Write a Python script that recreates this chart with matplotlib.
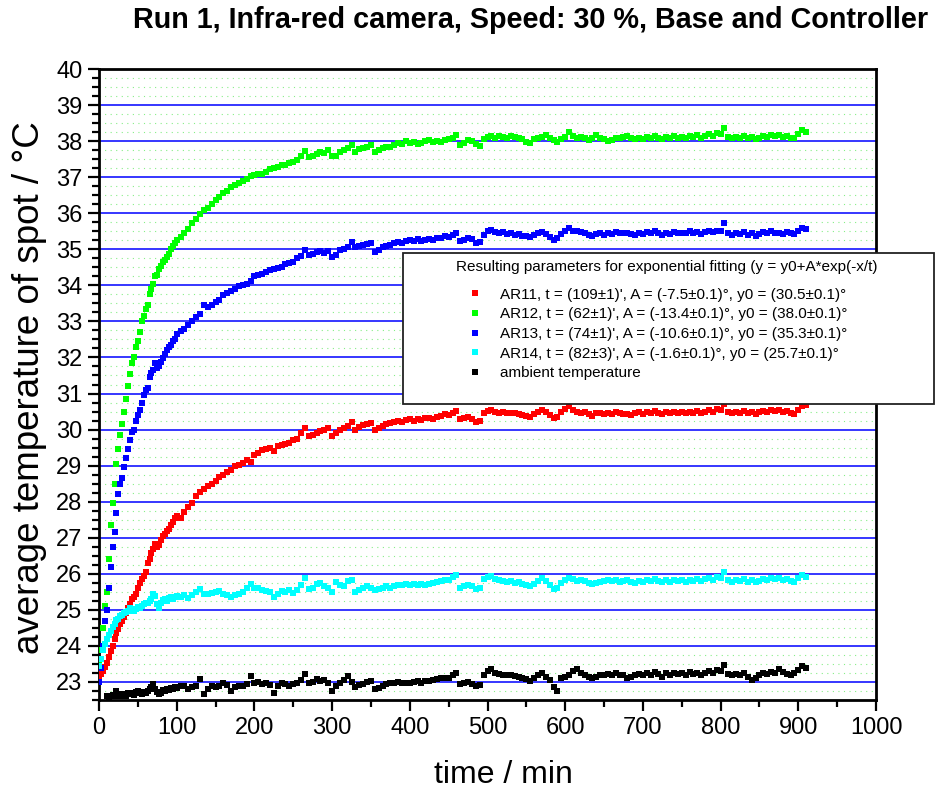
import numpy as np
import matplotlib
matplotlib.use('Agg')
import matplotlib.pyplot as plt
from matplotlib.ticker import MultipleLocator
from matplotlib.lines import Line2D
from matplotlib.patches import Rectangle

plt.rcParams['font.family'] = ['Liberation Sans', 'DejaVu Sans']

# sampling times (min): every 2.5 min during the fast rise, every 5 min after
t_early = np.arange(0, 100, 2.5)
t_late = np.arange(100, 915, 5)
t = np.concatenate([t_early, t_late])

nan = np.nan

# AR11 (red)
ar11_early = [23.15, 23.22, 23.3, 23.42, 23.52, 23.68, 23.85, 24.0, 24.18, 24.35,
              24.48, 24.6, 24.7, 24.8, 24.92, 25.05, 25.15, 25.3, 25.35, 25.45,
              25.6, 25.75, 25.85, 25.95, 26.05, 26.3, 26.4, 26.58, 26.7, 26.82,
              26.75, 26.8, 26.95, 27.05, 27.1, 27.2, 27.25, 27.35, 27.45, 27.55]
ar11_late = [27.6, 27.55, 27.72, 27.85, 27.97, 28.15, 28.28, 28.35, 28.43, 28.5,
             28.57, 28.68, 28.75, 28.82, 28.89, 28.98, 29.03, 29.08, 29.15, 29.1,
             29.3, 29.35, 29.42, 29.45, 29.5, 29.4, 29.55, 29.58, 29.6, 29.63,
             29.7, 29.75, 29.9, 30.05, 29.82, 29.85, 29.9, 29.95, 29.98, 30.05,
             29.82, 29.9, 30.0, 30.05, 30.1, 30.22, 30.0, 30.08, 30.12, 30.15,
             30.18, 30.0, 30.05, 30.1, 30.15, 30.18, 30.22, 30.25, 30.22, 30.27,
             30.28, 30.25, 30.3, 30.26, 30.32, 30.32, 30.3, 30.35, 30.38, 30.42,
             30.4, 30.45, 30.51, 30.28, 30.32, 30.35, 30.3, 30.22, 30.25, 30.45,
             30.52, 30.55, 30.48, 30.46, 30.5, 30.45, 30.47, 30.46, 30.44, 30.4,
             30.38, 30.36, 30.42, 30.48, 30.55, 30.48, 30.4, 30.32, 30.36, 30.5,
             30.58, 30.65, 30.55, 30.5, 30.46, 30.48, 30.42, 30.37, 30.45, 30.47,
             30.42, 30.46, 30.44, 30.5, 30.46, 30.44, 30.42, 30.4, 30.45, 30.48,
             30.44, 30.5, 30.45, 30.52, 30.47, 30.42, 30.48, 30.45, 30.5, 30.46,
             30.48, 30.45, 30.5, 30.47, 30.52, 30.46, 30.5, 30.55, 30.5, 30.57,
             30.55, 30.7, 30.5, 30.45, 30.48, 30.46, 30.52, 30.45, 30.5, 30.44,
             30.48, 30.52, 30.5, 30.55, 30.52, 30.55, 30.5, 30.52, 30.45, 30.42,
             30.55, 30.65, 30.68]

# AR12 (green)
ar12_early = [23.5, 23.9, 24.5, 25.1, 25.5, 26.4, 27.35, 27.95, 28.5, 29.05,
              29.45, 29.85, 30.15, 30.5, 30.85, 31.2, 31.55, 31.85, 32.0, 32.3,
              32.45, 32.7, 33.0, 33.15, 33.35, 33.45, 33.75, 33.9, 34.05, 34.25,
              34.3, 34.45, 34.55, 34.65, 34.7, 34.78, 34.88, 35.0, 35.1, 35.17]
ar12_late = [35.25, 35.35, 35.45, 35.55, 35.72, 35.85, 35.98, 36.08, 36.15, 36.25,
             36.38, 36.45, 36.55, 36.62, 36.72, 36.78, 36.85, 36.9, 36.95, 37.02,
             37.05, 37.1, 37.08, 37.15, 37.22, 37.25, 37.28, 37.33, 37.35, 37.38,
             37.42, 37.47, 37.58, 37.72, 37.55, 37.58, 37.65, 37.7, 37.68, 37.74,
             37.6, 37.58, 37.7, 37.75, 37.8, 37.9, 37.7, 37.78, 37.8, 37.85,
             37.88, 37.7, 37.75, 37.8, 37.85, 37.85, 37.9, 37.95, 37.92, 37.99,
             37.95, 37.98, 37.93, 37.96, 38.0, 38.03, 37.98, 38.0, 37.97, 38.02,
             38.05, 38.1, 38.17, 37.9, 37.95, 38.02, 38.0, 37.92, 37.86, 38.05,
             38.12, 38.15, 38.1, 38.14, 38.12, 38.1, 38.15, 38.12, 38.1, 38.05,
             37.98, 37.95, 38.05, 38.08, 38.12, 38.17, 38.1, 38.02, 37.98, 38.05,
             38.12, 38.25, 38.15, 38.08, 38.12, 38.1, 38.03, 38.08, 38.17, 38.1,
             38.05, 37.99, 38.02, 38.08, 38.1, 38.12, 38.13, 38.08, 38.05, 38.1,
             38.05, 38.12, 38.08, 38.15, 38.1, 38.05, 38.12, 38.1, 38.15, 38.08,
             38.12, 38.1, 38.15, 38.12, 38.18, 38.1, 38.15, 38.2, 38.15, 38.22,
             38.2, 38.35, 38.12, 38.08, 38.12, 38.1, 38.15, 38.08, 38.12, 38.05,
             38.1, 38.15, 38.12, 38.18, 38.15, 38.17, 38.12, 38.15, 38.1, 38.08,
             38.2, 38.31, 38.25]

# AR13 (blue)
ar13_early = [23.0, 23.4, 24.0, 24.7, 25.0, 25.6, 26.2, 26.75, 27.15, 27.7,
              28.2, 28.5, 28.65, 28.95, 29.2, 29.45, 29.7, 29.92, 30.0, 30.25,
              30.4, 30.55, 30.75, 30.95, 31.1, 31.15, 31.45, 31.58, 31.65, 31.85,
              31.7, 31.75, 31.88, 31.99, 32.1, 32.22, 32.3, 32.35, 32.45, 32.52]
ar13_late = [32.65, 32.72, 32.8, 32.9, 33.0, 33.12, 33.2, 33.45, 33.4, 33.45,
             33.55, 33.6, 33.72, 33.8, 33.85, 33.9, 33.97, 34.0, 34.05, 34.12,
             34.25, 34.3, 34.32, 34.38, 34.42, 34.45, 34.48, 34.5, 34.6, 34.62,
             34.65, 34.75, 34.82, 34.98, 34.85, 34.88, 34.92, 34.94, 34.9, 34.95,
             34.78, 34.85, 34.98, 35.0, 35.05, 35.2, 35.05, 35.08, 35.12, 35.15,
             35.17, 34.92, 34.98, 35.05, 35.1, 35.12, 35.17, 35.2, 35.18, 35.22,
             35.25, 35.22, 35.28, 35.24, 35.26, 35.28, 35.25, 35.3, 35.32, 35.36,
             35.34, 35.4, 35.45, 35.22, 35.25, 35.3, 35.28, 35.18, 35.2, 35.4,
             35.5, 35.54, 35.48, 35.45, 35.47, 35.42, 35.45, 35.4, 35.42, 35.38,
             35.36, 35.35, 35.4, 35.45, 35.49, 35.42, 35.35, 35.26, 35.3, 35.42,
             35.5, 35.59, 35.52, 35.5, 35.49, 35.45, 35.4, 35.36, 35.42, 35.45,
             35.4, 35.45, 35.42, 35.47, 35.45, 35.44, 35.45, 35.42, 35.4, 35.45,
             35.42, 35.47, 35.44, 35.5, 35.45, 35.4, 35.46, 35.43, 35.48, 35.45,
             35.44, 35.46, 35.5, 35.45, 35.48, 35.42, 35.47, 35.5, 35.48, 35.52,
             35.5, 35.72, 35.45, 35.4, 35.44, 35.42, 35.47, 35.4, 35.45, 35.38,
             35.42, 35.47, 35.44, 35.5, 35.46, 35.45, 35.43, 35.47, 35.45, 35.42,
             35.5, 35.59, 35.55]

# AR14 (cyan)
ar14_early = [23.45, 23.65, 23.9, 24.05, 24.18, 24.3, 24.42, 24.52, 24.6, 24.72,
              24.75, 24.82, 24.85, 24.9, 24.95, 24.98, 25.05, 25.0, 24.97, 25.02,
              25.08, 25.05, 25.1, 25.15, 25.18, 25.2, 25.25, 25.3, 25.43, 25.38,
              25.15, 25.06, 25.2, 25.28, 25.3, 25.25, 25.32, 25.35, 25.3, 25.36]
ar14_late = [25.38, 25.35, 25.4, 25.33, 25.42, 25.5, 25.57, 25.45, 25.43, 25.48,
             25.5, 25.52, 25.45, 25.4, 25.35, 25.42, 25.45, 25.5, 25.6, 25.72,
             25.62, 25.6, 25.55, 25.52, 25.5, 25.35, 25.45, 25.52, 25.5, 25.55,
             25.48, 25.55, 25.7, 25.89, 25.57, 25.62, 25.72, 25.75, 25.65, 25.6,
             25.5, 25.78, 25.7, 25.66, 25.8, 25.84, 25.5, 25.55, 25.6, 25.65,
             25.62, 25.55, 25.58, 25.6, 25.65, 25.62, 25.66, 25.7, 25.68, 25.72,
             25.7, 25.71, 25.68, 25.72, 25.7, 25.71, 25.74, 25.76, 25.8, 25.84,
             25.82, 25.9, 25.98, 25.62, 25.65, 25.7, 25.66, 25.57, 25.6, 25.85,
             25.9, 25.94, 25.85, 25.82, 25.8, 25.78, 25.8, 25.75, 25.78, 25.72,
             25.7, 25.66, 25.72, 25.8, 25.89, 25.8, 25.7, 25.57, 25.62, 25.75,
             25.82, 25.89, 25.85, 25.8, 25.82, 25.8, 25.75, 25.72, 25.75, 25.78,
             25.8, 25.84, 25.8, 25.82, 25.78, 25.8, 25.82, 25.78, 25.75, 25.8,
             25.78, 25.82, 25.8, 25.85, 25.8, 25.76, 25.82, 25.78, 25.84, 25.8,
             25.82, 25.78, 25.84, 25.8, 25.85, 25.8, 25.86, 25.88, 25.84, 25.9,
             25.88, 26.05, 25.82, 25.78, 25.82, 25.8, 25.85, 25.78, 25.82, 25.76,
             25.8, 25.85, 25.82, 25.88, 25.85, 25.89, 25.84, 25.86, 25.8, 25.78,
             25.88, 25.98, 25.92]

# ambient temperature (black), logging starts a few minutes late
amb_early = [nan, nan, nan, nan, 22.6, 22.57, 22.6, 22.65, 22.62, 22.75,
             22.68, 22.6, 22.65, 22.66, 22.62, 22.7, 22.68, 22.7, 22.65, 22.72,
             22.75, 22.7, 22.68, 22.72, 22.7, 22.75, 22.8, 22.85, 22.94, 22.8,
             22.72, 22.66, 22.7, 22.78, 22.75, 22.8, 22.78, 22.82, 22.8, 22.85]
amb_late = [22.82, 22.88, 22.89, 22.8, 22.85, 22.9, 23.08, 22.66, 22.8, 22.89,
            22.85, 22.9, 22.98, 22.92, 22.75, 22.85, 22.88, 22.89, 22.95, 23.17,
            22.98, 23.0, 22.95, 22.98, 22.92, 22.7, 22.88, 22.98, 22.95, 22.9,
            22.94, 22.98, 23.05, 23.21, 22.98, 23.0, 23.08, 23.02, 23.05, 22.98,
            22.75, 22.9, 22.98, 23.05, 23.17, 23.0, 22.85, 22.92, 22.95, 23.0,
            23.02, 22.8, 22.82, 22.9, 22.95, 22.98, 22.98, 23.0, 22.96, 22.98,
            22.98, 23.0, 23.02, 22.98, 23.03, 23.02, 23.05, 23.08, 23.1, 23.12,
            23.1, 23.18, 23.26, 22.94, 22.98, 23.0, 22.95, 22.89, 22.92, 23.2,
            23.3, 23.35, 23.25, 23.22, 23.2, 23.18, 23.2, 23.17, 23.15, 23.1,
            23.08, 23.03, 23.1, 23.18, 23.26, 23.15, 23.05, 22.85, 22.75, 23.1,
            23.15, 23.2, 23.3, 23.35, 23.25, 23.2, 23.15, 23.12, 23.15, 23.2,
            23.18, 23.22, 23.2, 23.25, 23.18, 23.2, 23.12, 23.15, 23.18, 23.22,
            23.2, 23.25, 23.18, 23.28, 23.22, 23.15, 23.24, 23.2, 23.26, 23.22,
            23.24, 23.2, 23.28, 23.22, 23.26, 23.2, 23.25, 23.3, 23.25, 23.32,
            23.3, 23.48, 23.22, 23.18, 23.22, 23.2, 23.24, 23.15, 23.05, 23.1,
            23.2, 23.25, 23.22, 23.28, 23.25, 23.35, 23.28, 23.21, 23.2, 23.25,
            23.32, 23.44, 23.38]

labels = ["AR11, t = (109\u00b11)', A = (-7.5\u00b10.1)\u00b0, y0 = (30.5\u00b10.1)\u00b0",
          "AR12, t = (62\u00b11)', A = (-13.4\u00b10.1)\u00b0, y0 = (38.0\u00b10.1)\u00b0",
          "AR13, t = (74\u00b11)', A = (-10.6\u00b10.1)\u00b0, y0 = (35.3\u00b10.1)\u00b0",
          "AR14, t = (82\u00b13)', A = (-1.6\u00b10.1)\u00b0, y0 = (25.7\u00b10.1)\u00b0",
          "ambient temperature"]
colors = ['#ff0000', '#00ff00', '#0000ff', '#00ffff', '#000000']

series = [ar11_early + ar11_late, ar12_early + ar12_late, ar13_early + ar13_late,
          ar14_early + ar14_late, amb_early + amb_late]

fig = plt.figure(figsize=(9.4, 7.96), dpi=100)
ax = fig.add_axes([99/940, 1-700/796, (876-99)/940, (700-69)/796])

for y, c in zip(series, colors):
    ax.plot(t, np.array(y), ls='none', marker='s', ms=3.8, mew=0, color=c, zorder=3)

ax.set_xlim(0, 1000)
ax.set_ylim(22.5, 40)
ax.xaxis.set_major_locator(MultipleLocator(100))
ax.xaxis.set_minor_locator(MultipleLocator(50))
ax.yaxis.set_major_locator(MultipleLocator(1))
ax.yaxis.set_minor_locator(MultipleLocator(0.25))

ax.set_axisbelow(True)
ax.yaxis.grid(True, which='major', color='#0000ff', lw=1.1)
ax.yaxis.grid(True, which='minor', color='#88ee88', lw=0.8, ls=(0, (1, 4)))

for s in ax.spines.values():
    s.set_linewidth(2)
ax.tick_params(which='both', direction='out', width=1.6, labelsize=17, top=False, right=False)
ax.tick_params(which='major', length=8, pad=4)
ax.tick_params(which='minor', length=5)

fig.text(531/940, 1-20/796, 'Run 1, Infra-red camera, Speed: 30 %, Base and Controller',
         ha='center', va='center', fontsize=20.7, fontweight='bold')
fig.text(503/940, 1-775/796, 'time / min', ha='center', va='center', fontsize=23)
fig.text(30/940, 1-388/796, 'average temperature of spot / \u00b0C', ha='center', va='center',
         rotation=90, fontsize=26.5)

# legend box drawn on top of the right spine
fig.patches.append(Rectangle((403/940, 1-404/796), (934-403)/940, (404-253)/796,
                             transform=fig.transFigure, fc='white', ec='#222222',
                             lw=1.3, zorder=4))
fig.text(667/940, 1-267/796, 'Resulting parameters for exponential fitting (y = y0+A*exp(-x/t)',
         ha='center', va='center', fontsize=11, zorder=6)
handles = [Line2D([], [], ls='none', marker='s', ms=4, mew=0, color=c) for c in colors]
leg = fig.legend(handles, labels, loc='upper left', bbox_to_anchor=(446/940, 1-274/796),
                 frameon=False, fontsize=11, handlelength=2.0, handletextpad=0.63,
                 labelspacing=0.37)
leg.set_zorder(5)

fig.savefig('out.png', dpi=100)
